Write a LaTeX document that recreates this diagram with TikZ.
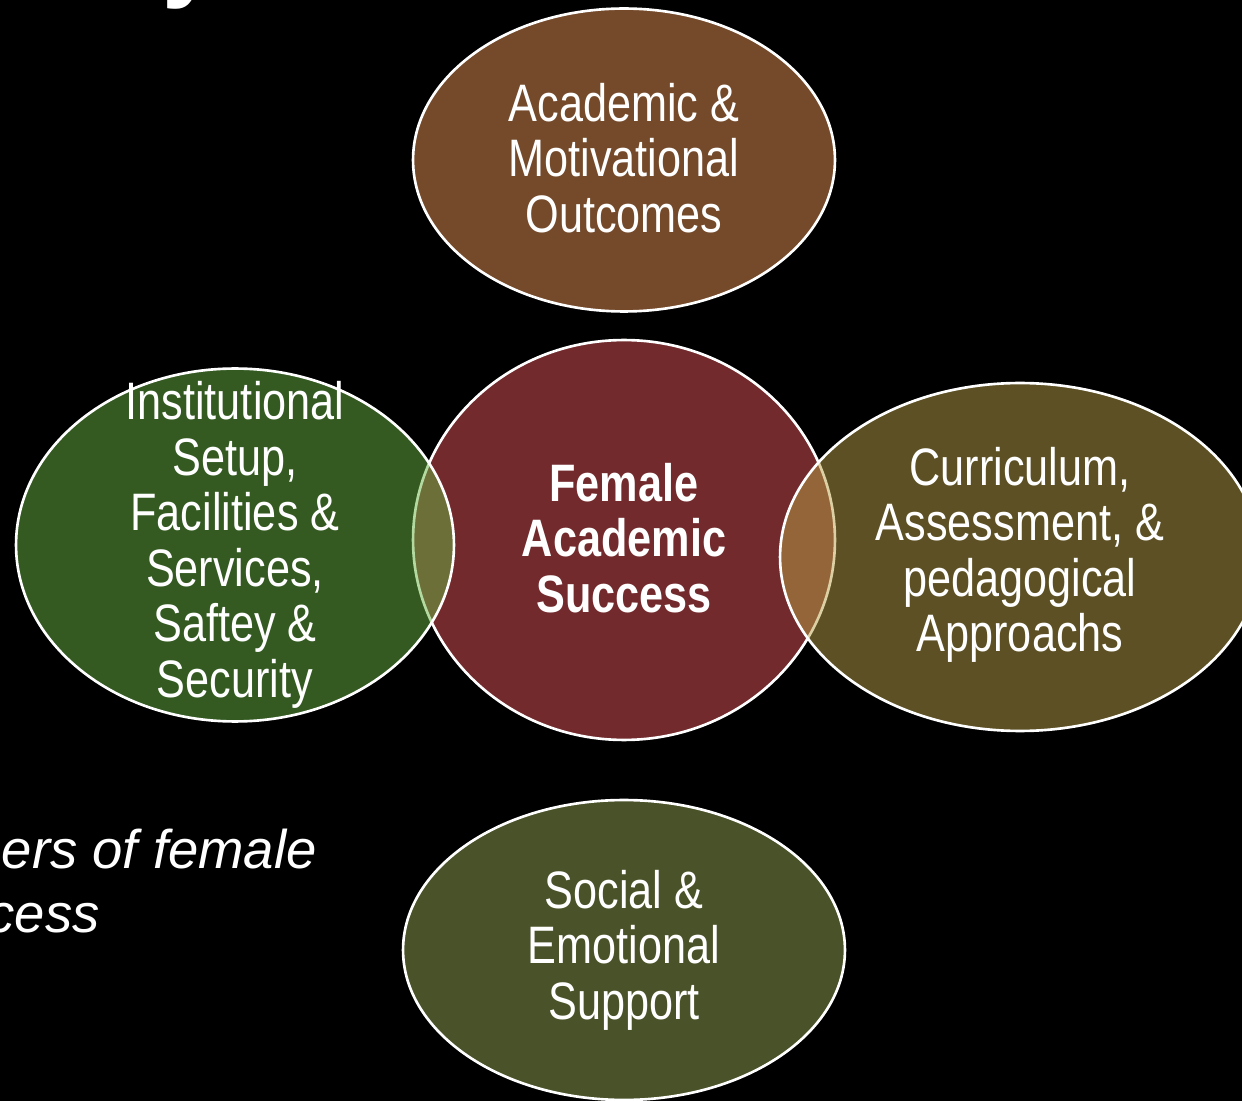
\documentclass[tikz,border=0pt]{standalone}
\usepackage{fontspec}
\setmainfont[FakeStretch=0.82]{Liberation Sans}
\newfontfamily\slidefont{Liberation Sans}
\usepackage{xcolor}
\usetikzlibrary{shapes.geometric, positioning}

% Màu các vùng (tô 50% trên nền đen)
\definecolor{mauTrungTam}{HTML}{722A2D}
\definecolor{mauNau}{HTML}{E89456}
\definecolor{mauXanh}{HTML}{68B444}
\definecolor{mauVang}{HTML}{B8A048}
\definecolor{mauReu}{HTML}{94A452}

\begin{document}
\begin{tikzpicture}[x=0.02cm, y=-0.02cm,
    vung/.style={ellipse, draw=white, line width=1.5pt, inner sep=0pt, fill opacity=0.5},
    chu/.style={text=white, align=center, inner sep=0pt, font=\fontsize{30}{31.6}\selectfont}]
    % Nền đen và khung cắt
    \useasboundingbox (0,0) rectangle (1242,1101);
    \fill[black] (0,0) rectangle (1242,1101);
    \clip (0,0) rectangle (1242,1101);

    % Tiêu đề bị cắt ở mép trên
    \node[anchor=base west, inner sep=0pt, text=white,
          font=\slidefont\bfseries\fontsize{57}{60}\selectfont] (tieude) at (162,-11) {y};

    % Hình ở giữa
    \node[vung, fill=mauTrungTam, fill opacity=1, minimum width=8.44cm, minimum height=8cm]
        (success) at (624,540) {};

    % Bốn vùng xung quanh
    \node[vung, fill=mauNau, minimum width=8.44cm, minimum height=6.06cm] (outcomes) at (624,160) {};
    \node[vung, fill=mauXanh, minimum width=8.76cm, minimum height=7.06cm] (institution) at (235,545) {};
    \node[vung, fill=mauVang, minimum width=9.6cm, minimum height=6.96cm] (curriculum) at (1020,557) {};
    \node[vung, fill=mauReu, minimum width=8.84cm, minimum height=6cm] (support) at (624,950) {};

    % Chữ trong các vùng
    \node[chu] (outcomes-txt) at (624,158) {Academic \&\\Motivational\\Outcomes};
    \node[chu, font=\bfseries\fontsize{30}{31.6}\selectfont] (success-txt) at (624,538) {Female\\Academic\\Success};
    \node[chu] (institution-txt) at (235,545) {Institutional\\Setup,\\Facilities \&\\Services,\\Saftey \&\\Security};
    \node[chu] (curriculum-txt) at (1020,555) {Curriculum,\\Assessment, \&\\pedagogical\\Approachs};
    \node[chu] (support-txt) at (624,950) {Social \&\\Emotional\\Support};

    % Dòng chữ nghiêng bên trái
    \node[anchor=base east, inner sep=0pt, text=white,
          font=\slidefont\itshape\fontsize{31}{37}\selectfont] (drivers) at (317,868) {ers of female};
    \node[anchor=base east, inner sep=0pt, text=white,
          font=\slidefont\itshape\fontsize{31}{37}\selectfont] (drivers2) at (100,932) {cess};
\end{tikzpicture}
\end{document}
